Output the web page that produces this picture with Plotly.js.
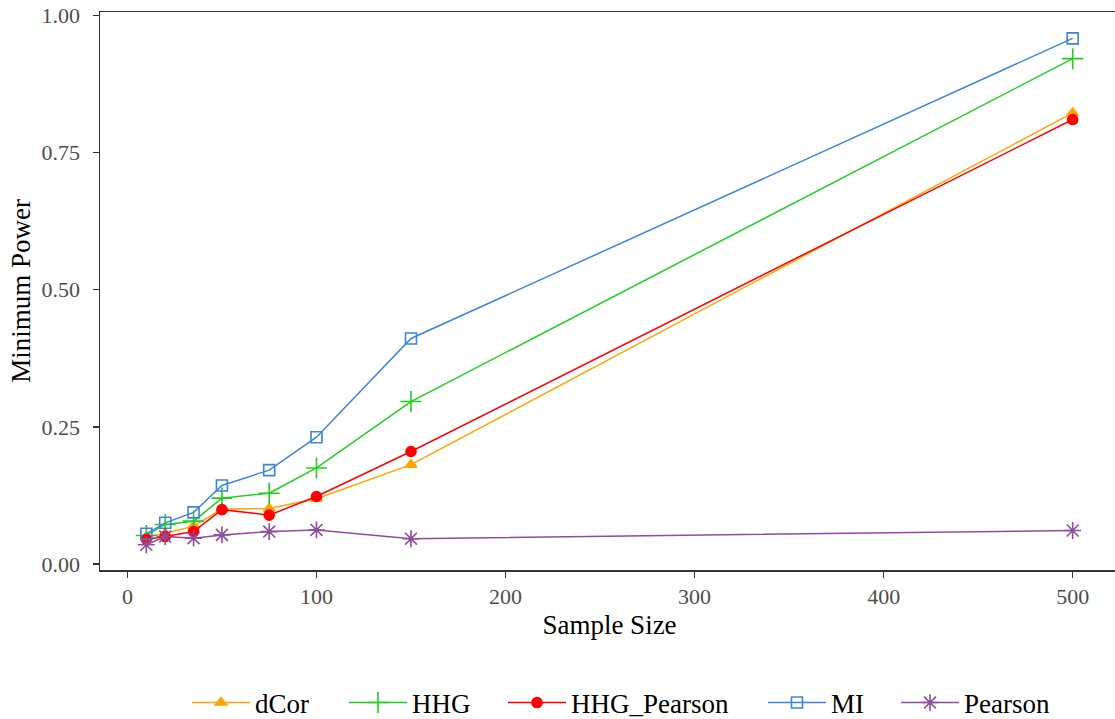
<!DOCTYPE html>
<html>
<head>
<meta charset="utf-8">
<script src="https://cdn.plot.ly/plotly-3.0.1.min.js"></script>
<style>
html,body{margin:0;padding:0;overflow:hidden;background:#fff;}
#chart{width:1120px;height:719px;}
</style>
</head>
<body>
<div id="chart"></div>
<script>
const sampleSize = [10, 20, 35, 50, 75, 100, 150, 500];
const dCor        = [0.049, 0.056, 0.069, 0.100, 0.101, 0.119, 0.181, 0.822];
const HHG         = [0.052, 0.072, 0.078, 0.120, 0.129, 0.175, 0.296, 0.921];
const HHG_Pearson = [0.045, 0.050, 0.059, 0.099, 0.089, 0.123, 0.205, 0.810];
const MI          = [0.055, 0.075, 0.094, 0.143, 0.171, 0.231, 0.411, 0.958];
const Pearson     = [0.035, 0.050, 0.047, 0.053, 0.059, 0.062, 0.046, 0.061];

const seriesNames = ["dCor", "HHG", "HHG_Pearson", "MI", "Pearson"];
const seriesData = [dCor, HHG, HHG_Pearson, MI, Pearson];
const colors = ["#FFA500", "#1ED01E", "#FF0000", "#3D85D8", "#8E4C9E"];
const symbols = ["triangle-up", "cross-thin-open", "circle", "square-open", "asterisk-open"];
const sizes = [10, 15, 10, 11, 14];
// left pixel of each legend key (reference)
const legendKeyLeft = [192, 349, 508, 768, 901];

const FONT = '"Liberation Serif", "Times New Roman", serif';
const W = 1120, H = 719, ML = 100, MR = 1, MT = 12, MB = 149;
const plotW = W - ML - MR;

const legendIds = ["legend", "legend2", "legend3", "legend4", "legend5"];

const traces = seriesNames.map((n, i) => ({
  type: "scatter",
  mode: "lines+markers",
  name: n,
  legend: legendIds[i],
  x: sampleSize,
  y: seriesData[i],
  line: {color: colors[i], width: 1.5},
  marker: {color: colors[i], symbol: symbols[i], size: sizes[i],
           line: {color: colors[i], width: 1.6}}
}));

const layout = {
  width: W, height: H,
  margin: {l: ML, r: MR, t: MT, b: MB},
  paper_bgcolor: "#fff", plot_bgcolor: "#fff",
  font: {family: FONT, color: "#000"},
  showlegend: true,
  xaxis: {
    range: [-14.5, 524.5], tickvals: [0, 100, 200, 300, 400, 500],
    automargin: false,
    showgrid: false, zeroline: false,
    showline: true, mirror: true, linecolor: "#333", linewidth: 1.5,
    ticks: "outside", ticklen: 6, tickwidth: 1.5, tickcolor: "#333",
    ticklabelstandoff: 0,
    tickfont: {family: FONT, size: 22, color: "#4D4D4D"},
    title: {text: "Sample Size", font: {family: FONT, size: 27, color: "#000"}, standoff: 7}
  },
  yaxis: {
    range: [-0.011, 1.006], tickvals: [0, 0.25, 0.5, 0.75, 1.0], tickformat: ".2f",
    automargin: false,
    showgrid: false, zeroline: false,
    showline: true, mirror: true, linecolor: "#333", linewidth: 1.5,
    ticks: "outside", ticklen: 6, tickwidth: 1.5, tickcolor: "#333",
    ticklabelstandoff: 8,
    tickfont: {family: FONT, size: 22, color: "#4D4D4D"},
    title: {text: "Minimum Power", font: {family: FONT, size: 27, color: "#000"}, standoff: 3}
  }
};

legendIds.forEach((id, i) => {
  layout[id] = {
    orientation: "h",
    x: (legendKeyLeft[i] - 5 - ML) / plotW, xanchor: "left",
    yref: "container", y: 16 / H, yanchor: "middle",
    font: {family: FONT, size: 27, color: "#000"},
    itemwidth: 58, bgcolor: "rgba(0,0,0,0)"
  };
});

Plotly.newPlot("chart", traces, layout, {displayModeBar: false, staticPlot: true});
</script>
</body>
</html>
